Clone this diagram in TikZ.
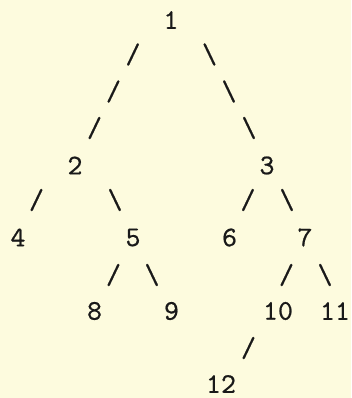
\documentclass[tikz,border=0pt]{standalone}
\usepackage{fontspec}
\setmonofont{lmmono10-regular.otf}[FakeBold=0.6]
\definecolor{paper}{RGB}{253,251,222}
\definecolor{ink}{RGB}{25,25,25}
\begin{document}
\begin{tikzpicture}[x=1pt,y=-1pt,
  every node/.style={inner sep=0pt,outer sep=0pt,text=ink,font=\ttfamily\fontsize{28.5}{30}\selectfont},
  num/.style={anchor=center},
  sl/.style={anchor=center}]
\fill[paper] (0,0) rectangle (351,398);
\useasboundingbox (0,0) rectangle (351,398);
% numbers
\node[num] (n1) at (171,20) {1};
\node[num] (n2) at (75,165.5) {2};
\node[num] (n3) at (267,165.5) {3};
\node[num] (n4) at (18,237.5) {4};
\node[num] (n5) at (133,237.5) {5};
\node[num] (n6) at (229.5,237.5) {6};
\node[num] (n7) at (305,237.5) {7};
\node[num] (n8) at (94.5,311) {8};
\node[num] (n9) at (171.5,311) {9};
\node[num] (n10) at (278,311) {10};
\node[num] (n11) at (335,311) {11};
\node[num] (n12) at (221,384) {12};
% connectors printed as slashes
\node[sl] (a1) at (133,54.5) {/};
\node[sl] (a2) at (113.5,91.5) {/};
\node[sl] (a3) at (94.5,128) {/};
\node[sl] (b1) at (209.5,54.5) {\textbackslash};
\node[sl] (b2) at (229,91.5) {\textbackslash};
\node[sl] (b3) at (249,128) {\textbackslash};
\node[sl] (c24) at (36.5,200) {/};
\node[sl] (c25) at (115,200) {\textbackslash};
\node[sl] (c36) at (248,200) {/};
\node[sl] (c37) at (287,200) {\textbackslash};
\node[sl] (c58) at (113.5,275) {/};
\node[sl] (c59) at (152,275) {\textbackslash};
\node[sl] (c710) at (286.5,275) {/};
\node[sl] (c711) at (325,275) {\textbackslash};
\node[sl] (c1012) at (248.5,348) {/};
\end{tikzpicture}
\end{document}
